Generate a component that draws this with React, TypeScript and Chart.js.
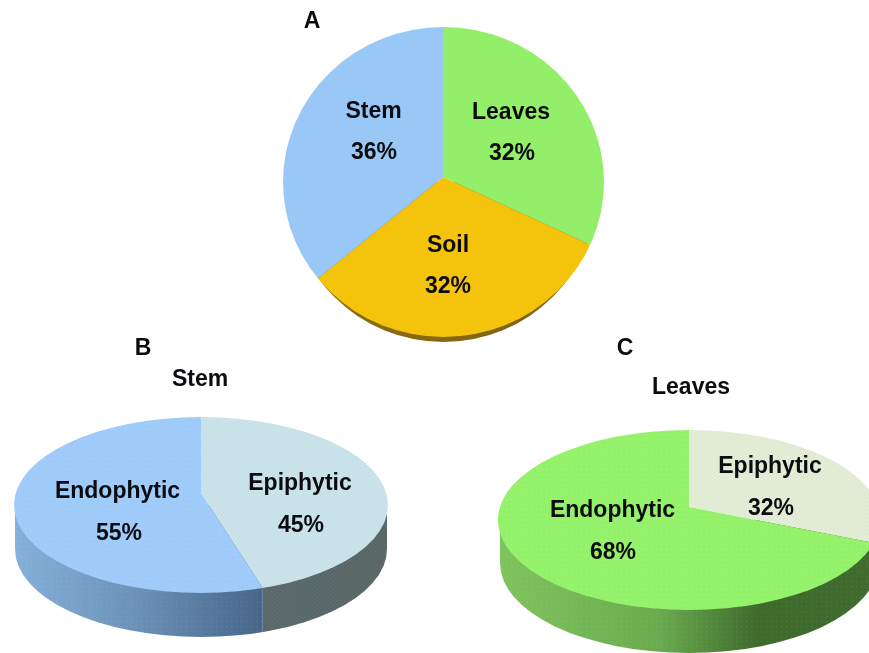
import React, { useEffect, useRef } from "react";
import { Chart, registerables } from "chart.js";

Chart.register(...registerables);

const WIDTH = 869;
const HEIGHT = 653;
const FONT = "bold 23px 'Liberation Sans', Arial, sans-serif";

// Shares, clockwise from twelve o'clock.
const sourceLabels = ["Leaves", "Soil", "Stem"];
const sourceValues = [32, 32, 36];
const stemLabels = ["Epiphytic", "Endophytic"];
const stemValues = [45, 55];
const leavesLabels = ["Epiphytic", "Endophytic"];
const leavesValues = [32, 68];

type Stop = [number, string];
type Tex = "dots" | "hatch" | null;
interface Look {
  apexX: number; apexY: number;          // where the slices meet
  cx: number; cy: number; rx: number; ry: number; // outline of the top face
  tilt: number;                          // vertical foreshortening of the slice edges
  depth: number; wallRx: number;         // side wall
  faces: string[]; textures: Tex[]; tileInk: string[];
  walls: Stop[][];
  labelPos: [number, number, number, number][]; // name x,y then value x,y
  captions: [string, number, number][];
}

function makeTile(base: string | null, kind: Tex, ink: string): CanvasPattern | string {
  if (!kind) return base as string;
  const size = kind === "dots" ? 5 : 4;
  const tile = document.createElement("canvas");
  tile.width = tile.height = size;
  const g = tile.getContext("2d")!;
  if (base) { g.fillStyle = base; g.fillRect(0, 0, size, size); }
  if (kind === "dots") {
    g.fillStyle = ink;
    g.fillRect(1, 1, 1.4, 1.4);
  } else {
    g.strokeStyle = ink;
    g.lineWidth = 1;
    g.beginPath();
    g.moveTo(-1, size + 1); g.lineTo(size + 1, -1);
    g.moveTo(-1, 1); g.lineTo(1, -1);
    g.moveTo(size - 1, size + 1); g.lineTo(size + 1, size - 1);
    g.stroke();
  }
  return document.createElement("canvas").getContext("2d")!.createPattern(tile, "repeat")!;
}

// Point where a ray leaving the slice apex crosses the outline of the top face.
function rimPoint(l: Look, angle: number) {
  const dx = Math.cos(angle), dy = Math.sin(angle) * l.tilt;
  const ox = (l.apexX - l.cx) / l.rx, oy = (l.apexY - l.cy) / l.ry;
  const px = dx / l.rx, py = dy / l.ry;
  const a = px * px + py * py, b = 2 * (ox * px + oy * py), c = ox * ox + oy * oy - 1;
  const t = (-b + Math.sqrt(b * b - 4 * a * c)) / (2 * a);
  return { x: l.apexX + dx * t, y: l.apexY + dy * t };
}

function drawWalls(ctx: CanvasRenderingContext2D, l: Look, arcs: any[], overlays: (CanvasPattern | string | null)[]) {
  arcs.forEach((arc, i) => {
    let lo = Infinity, hi = -Infinity;
    for (let s = 0; s <= 240; s++) {
      const p = rimPoint(l, arc.startAngle + ((arc.endAngle - arc.startAngle) * s) / 240);
      if (p.y >= l.cy) { lo = Math.min(lo, p.x); hi = Math.max(hi, p.x); }
    }
    if (lo > hi) return;
    ctx.save();
    ctx.beginPath();
    ctx.rect(lo, 0, hi - lo, HEIGHT);
    ctx.clip();
    ctx.beginPath();
    ctx.ellipse(l.cx, l.cy + l.depth, l.wallRx, l.ry, 0, 0, Math.PI);
    ctx.lineTo(l.cx - l.wallRx, l.cy);
    ctx.lineTo(l.cx + l.wallRx, l.cy);
    ctx.closePath();
    const grad = ctx.createLinearGradient(l.cx - l.rx, 0, l.cx + l.rx, 0);
    l.walls[i].forEach(([pos, col]) => grad.addColorStop(pos, col));
    ctx.fillStyle = grad;
    ctx.fill();
    const over = overlays[i];
    if (over) { ctx.fillStyle = over; ctx.fill(); }
    ctx.restore();
  });
}

const piePlugin = (l: Look, names: string[], values: number[], overlays: (CanvasPattern | string | null)[]) => ({
  id: "tiltedPie",
  beforeDatasetsDraw(chart: any) {
    const ctx: CanvasRenderingContext2D = chart.ctx;
    const arcs = chart.getDatasetMeta(0).data;
    drawWalls(ctx, l, arcs, overlays);

    // Slices are oversized about their apex and trimmed to the face outline.
    const R = arcs[0].outerRadius;
    const reach = 2.2 * l.rx;
    const sx = reach / R, sy = (reach * l.tilt) / R;
    const unscale = new DOMMatrix().scale(1 / sx, 1 / sy);
    ctx.save();
    ctx.beginPath();
    ctx.ellipse(l.cx, l.cy, l.rx, l.ry, 0, 0, Math.PI * 2);
    ctx.clip();
    ctx.translate(l.apexX, l.apexY);
    ctx.scale(sx, sy);
    ctx.translate(-arcs[0].x, -arcs[0].y);
    arcs.forEach((arc: any) => {
      const fill = arc.options.backgroundColor;
      if (fill && fill.setTransform) fill.setTransform(unscale);
      arc.draw(ctx);
    });
    ctx.restore();
    return false;
  },
  afterDraw(chart: any) {
    const ctx: CanvasRenderingContext2D = chart.ctx;
    ctx.save();
    ctx.font = FONT;
    ctx.fillStyle = "#0b0b10";
    ctx.textAlign = "center";
    ctx.textBaseline = "middle";
    names.forEach((name, i) => {
      const [nx, ny, vx, vy] = l.labelPos[i];
      ctx.fillText(name, nx, ny);
      ctx.fillText(`${values[i]}%`, vx, vy);
    });
    l.captions.forEach(([text, x, y]) => ctx.fillText(text, x, y));
    ctx.restore();
  },
});

const looks: Look[] = [
  {
    apexX: 443, apexY: 177, cx: 443.5, cy: 182, rx: 160.5, ry: 155, tilt: 0.98,
    depth: 5, wallRx: 155,
    faces: ["#93ef69", "#f4c40c", "#9ac8f6"], textures: [null, null, null], tileInk: ["", "", ""],
    walls: [
      [[0, "#6aa84f"], [1, "#6aa84f"]],
      [[0, "#8f6f12"], [1, "#7e5f0c"]],
      [[0, "#6d92b8"], [1, "#6d92b8"]],
    ],
    labelPos: [
      [511, 113, 512, 154],
      [448, 246, 448, 287],
      [373.5, 112, 374, 153],
    ],
    captions: [["A", 312, 22]],
  },
  {
    apexX: 201, apexY: 493, cx: 201, cy: 505, rx: 187, ry: 88, tilt: 0.5,
    depth: 44, wallRx: 186,
    faces: ["#cde5eb", "#9ecbf9"], textures: ["hatch", "dots"], tileInk: ["#bedbe3", "#acd4fb"],
    walls: [
      [[0, "#5f6f70"], [1, "#5c6a6a"]],
      [[0, "#85b0da"], [0.32, "#6d92b8"], [0.66, "#47668a"], [1, "#47668a"]],
    ],
    labelPos: [
      [300, 484, 301, 526],
      [117.5, 492, 119, 534],
    ],
    captions: [["B", 143, 349], ["Stem", 200, 380]],
  },
  {
    apexX: 689, apexY: 507, cx: 689, cy: 520, rx: 191, ry: 90, tilt: 0.414,
    depth: 43, wallRx: 189,
    faces: ["#e6eeda", "#94f26a"], textures: ["hatch", "dots"], tileInk: ["#d9e5c8", "#a2f47e"],
    walls: [
      [[0, "#3f6c2e"], [1, "#47762f"]],
      [[0, "#7fc45e"], [0.42, "#6bab4f"], [0.68, "#3e6a2c"], [0.97, "#3f6c2e"], [1, "#47762f"]],
    ],
    labelPos: [
      [770, 467, 771, 509],
      [612.5, 511, 613, 553],
    ],
    captions: [["C", 625, 349], ["Leaves", 691, 388]],
  },
];

const sets = [
  { names: sourceLabels, values: sourceValues },
  { names: stemLabels, values: stemValues },
  { names: leavesLabels, values: leavesValues },
];

export default function App() {
  const refs = [useRef<HTMLCanvasElement>(null), useRef<HTMLCanvasElement>(null), useRef<HTMLCanvasElement>(null)];

  useEffect(() => {
    const charts = looks.map((l, idx) => {
      const { names, values } = sets[idx];
      const fills = l.faces.map((c, i) => makeTile(c, l.textures[i], l.tileInk[i]));
      const overlays = l.textures.map((t) => (t ? makeTile(null, t, t === "dots" ? "rgba(255,255,255,0.07)" : "rgba(0,0,0,0.08)") : null));
      return new Chart(refs[idx].current!, {
        type: "pie",
        data: { labels: names, datasets: [{ data: values, backgroundColor: fills as any, borderWidth: 0 }] },
        options: {
          responsive: false,
          animation: false,
          events: [],
          plugins: { legend: { display: false }, tooltip: { enabled: false } },
        },
        plugins: [piePlugin(l, names, values, overlays) as any],
      });
    });
    return () => charts.forEach((c) => c.destroy());
  }, []);

  return (
    <div style={{ position: "fixed", left: 0, top: 0, width: WIDTH, height: HEIGHT, background: "#fff", overflow: "hidden" }}>
      {refs.map((r, i) => (
        <canvas key={i} ref={r} width={WIDTH} height={HEIGHT} style={{ position: "absolute", left: 0, top: 0 }} />
      ))}
    </div>
  );
}
